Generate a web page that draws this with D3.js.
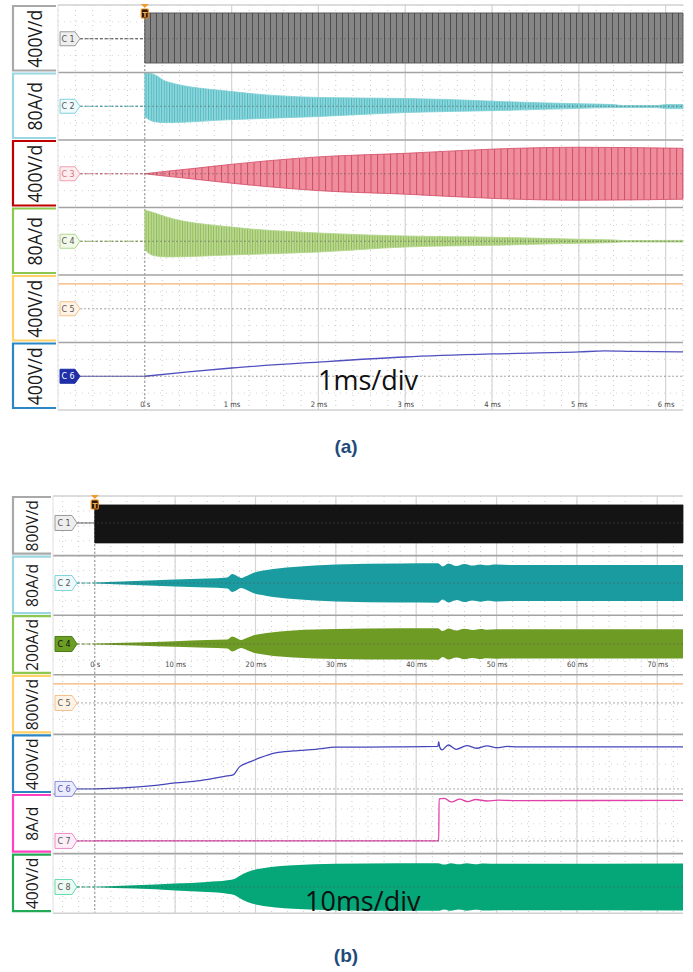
<!DOCTYPE html>
<html>
<head>
<meta charset="utf-8">
<script src="https://cdn.jsdelivr.net/npm/d3@7"></script>
<style>
body { margin: 0; background: #fff; }
svg { display: block; }
</style>
</head>
<body>
<svg id="chart" width="693" height="972"></svg>
<script>
// ---------- panel (a), 1 ms/div ----------
var aTickValues = [0, 1, 2, 3, 4, 5, 6];
var aTickLabels = ["0 s", "1 ms", "2 ms", "3 ms", "4 ms", "5 ms", "6 ms"];
var aScales = ["400V/d", "80A/d", "400V/d", "80A/d", "400V/d", "400V/d"];
var aTags = ["C 1", "C 2", "C 3", "C 4", "C 5", "C 6"];
var aGround = [0, 0, 0, 0, 0, 0];   // divisions from strip centre

// envelopes / traces, time in ms, level in divisions above ground
var aC1_t = [0, 6.2];
var aC1_hi = [1.53, 1.53];
var aC1_lo = [-1.44, -1.44];

var aC2_t = [0, 0.1, 0.25, 1, 2, 3, 3.5, 4.1, 4.9, 5.4, 5.5, 5.9, 6.0, 6.2];
var aC2_hi = [2.0, 1.9, 1.46, 0.87, 0.52, 0.46, 0.40, 0.28, 0.16, 0.10, 0.04, 0.04, 0.10, 0.10];
var aC2_lo = [-0.62, -0.9, -0.97, -0.79, -0.61, -0.37, -0.31, -0.25, -0.14, -0.08, -0.08, -0.08, -0.14, -0.14];

var aC3_t = [0, 0.2, 0.5, 1, 2, 3, 4.1, 5, 6.2];
var aC3_amp = [0, 0.12, 0.28, 0.56, 1.0, 1.21, 1.48, 1.57, 1.51];

var aC4_t = [0, 0.1, 0.25, 1, 2, 3, 4, 5, 5.4, 5.5, 6.2];
var aC4_hi = [1.85, 1.7, 1.44, 0.84, 0.49, 0.31, 0.24, 0.12, 0.08, 0.04, 0.05];
var aC4_lo = [-0.52, -0.85, -0.93, -0.81, -0.64, -0.34, -0.24, -0.12, -0.08, -0.04, -0.05];

var aC5_t = [-1.0, 6.2];
var aC5_v = [1.47, 1.47];

var aC6_t = [0, 0.5, 1, 2, 3, 4, 5, 5.3, 5.6, 6.2];
var aC6_v = [0, 0.26, 0.49, 0.84, 1.14, 1.32, 1.44, 1.50, 1.47, 1.44];

// ---------- panel (b), 10 ms/div ----------
var bTickValues = [0, 10, 20, 30, 40, 50, 60, 70];
var bTickLabels = ["0 s", "10 ms", "20 ms", "30 ms", "40 ms", "50 ms", "60 ms", "70 ms"];
var bScales = ["800V/d", "80A/d", "200A/d", "800V/d", "400V/d", "8A/d", "400V/d"];
var bTags = ["C 1", "C 2", "C 4", "C 5", "C 6", "C 7", "C 8"];
var bGround = [0.19, 0.16, 0.07, 0.11, -1.66, -1.15, -0.24];

var bC1_t = [0, 73.2];
var bC1_hi = [1.21, 1.21];
var bC1_lo = [-1.34, -1.34];

var bC2_t = [0, 5, 10, 14, 16.5, 17.1, 17.6, 18.2, 18.9, 19.7, 21.4, 24.7, 30, 38, 42.7, 43.3, 44, 45, 46, 47, 48, 48.8, 50, 52, 73.2];
var bC2_amp = [0.03, 0.13, 0.23, 0.30, 0.37, 0.60, 0.50, 0.34, 0.47, 0.67, 0.87, 1.07, 1.24, 1.31, 1.32, 1.11, 1.31, 1.14, 1.28, 1.17, 1.25, 1.19, 1.24, 1.21, 1.21];

var bC4_t = [0, 5, 10, 14, 16.5, 17.1, 17.6, 18.2, 18.9, 19.7, 21.4, 24.7, 30, 38, 42.7, 43.3, 44, 45, 46, 47, 48, 48.8, 50, 52, 73.2];
var bC4_amp = [0.03, 0.10, 0.19, 0.26, 0.30, 0.50, 0.40, 0.27, 0.40, 0.57, 0.74, 0.91, 1.01, 1.05, 1.06, 0.87, 1.04, 0.91, 1.02, 0.94, 1.01, 0.96, 0.99, 0.98, 0.98];

var bC5_t = [-5.2, 73.2];
var bC5_v = [1.28, 1.28];

var bC6_t = [0, 3.5, 6.9, 10, 13.1, 16.5, 17.2, 18, 19.3, 20.5, 22.5, 24.7, 27.5, 30, 37, 42.7, 42.8, 42.9, 43.2, 44, 45, 46.3, 47.5, 48.8, 50.1, 51.3, 52.5, 73.2];
var bC6_v = [0, 0.07, 0.2, 0.40, 0.56, 0.87, 0.94, 1.48, 1.81, 2.08, 2.42, 2.55, 2.66, 2.80, 2.82, 2.85, 3.17, 2.85, 2.62, 2.95, 2.66, 2.91, 2.73, 2.89, 2.77, 2.85, 2.82, 2.82];

var bC7_t = [0, 42.8, 42.85, 43.5, 44.4, 45.4, 46.4, 47.4, 48.8, 50.2, 52, 73.2];
var bC7_v = [0, 0, 2.82, 2.85, 2.62, 2.80, 2.64, 2.78, 2.68, 2.74, 2.71, 2.72];

var bC8_t = [0, 5, 10, 14, 16.5, 17.5, 18, 19, 20.5, 22.5, 24.7, 30, 38, 42.7, 43.5, 44.3, 45.3, 46.3, 47.3, 48.5, 50, 73.2];
var bC8_amp = [0.02, 0.11, 0.23, 0.34, 0.45, 0.57, 0.74, 1.01, 1.23, 1.38, 1.46, 1.56, 1.60, 1.60, 1.51, 1.60, 1.52, 1.59, 1.53, 1.58, 1.56, 1.58];

function neg(a) { return a.map(function(v) { return -v; }); }

var svg = d3.select("#chart");
var defs = svg.append("defs");

// vertical switching stripes used by the 1 ms/div traces
function stripes(id, bg, fg, w, lw) {
    var p = defs.append("pattern").attr("id", id)
        .attr("patternUnits", "userSpaceOnUse")
        .attr("width", w).attr("height", 10);
    p.append("rect").attr("width", w).attr("height", 10).attr("fill", bg);
    p.append("rect").attr("width", lw).attr("height", 10).attr("fill", fg);
}
stripes("pA1", "#868686", "#4e4e4e", 6, 1);
stripes("pA2", "#8ed6db", "#4fb9c2", 2.6, 0.9);
stripes("pA3", "#ef8d9c", "#d44e69", 6.5, 1);
stripes("pA4", "#bad993", "#8fb955", 2.6, 0.9);

var aStyle = [
    {box: "#a9a9a9", tagFill: "#eeeeee", tagStroke: "#9a9a9a", tagText: "#555", pre: "#555", preDash: "3,2", fill: "url(#pA1)", edge: "#4a4a4a"},
    {box: "#9bd6e3", tagFill: "#eefafb", tagStroke: "#7fd3dc", tagText: "#555", pre: "#3fb1bb", preDash: "3,2", fill: "url(#pA2)", edge: "#7ccfd5"},
    {box: "#c00000", tagFill: "#fdecef", tagStroke: "#f0a0ae", tagText: "#c77", pre: "#e06880", preDash: "3,2", fill: "url(#pA3)", edge: "#d24c67"},
    {box: "#8cc850", tagFill: "#f2f9e8", tagStroke: "#b0d890", tagText: "#555", pre: "#86b24a", preDash: "3,2", fill: "url(#pA4)", edge: "#b0d488"},
    {box: "#ffd166", tagFill: "#fff3e6", tagStroke: "#f5c08a", tagText: "#555", pre: null, line: "#f5b070"},
    {box: "#2b86c6", tagFill: "#1f2fa8", tagStroke: "#1f2fa8", tagText: "#fff", pre: "#5a5ab0", preDash: null, line: "#5050c0"}
];

var bStyle = [
    {box: "#a9a9a9", tagFill: "#eeeeee", tagStroke: "#9a9a9a", tagText: "#555", pre: "#777", preDash: null, fill: "#141414", edge: "#141414"},
    {box: "#9bd6e3", tagFill: "#eefafb", tagStroke: "#7fd3dc", tagText: "#555", pre: "#1a9ba0", preDash: "3,2", fill: "#1a9ba0", edge: "none"},
    {box: "#8cc850", tagFill: "#6b9e22", tagStroke: "#4f7a14", tagText: "#111", pre: "#6b9b22", preDash: "3,2", fill: "#6d9b23", edge: "none"},
    {box: "#ffd166", tagFill: "#fff3e6", tagStroke: "#f5c08a", tagText: "#555", pre: null, line: "#f5b070"},
    {box: "#2b86c6", tagFill: "#ececff", tagStroke: "#8c8cd8", tagText: "#5555b0", pre: "#4a4ac0", preDash: null, line: "#4646bb"},
    {box: "#ff40c0", tagFill: "#fdeef7", tagStroke: "#ec8cc8", tagText: "#555", pre: "#e040a8", preDash: null, line: "#e040a8"},
    {box: "#22aa55", tagFill: "#ecfbf4", tagStroke: "#6ad8b0", tagText: "#555", pre: "#07a677", preDash: "3,2", fill: "#05a677", edge: "none"}
];

function drawPanel(P) {
    var n = P.scales.length;
    var bottom = P.top + n * P.stripH;
    var x = d3.scaleLinear().domain(P.domain).range([P.left, P.right]);
    var ys = d3.range(n).map(function(i) {
        return d3.scaleLinear().domain([-2, 2])
            .range([P.top + (i + 1) * P.stripH, P.top + i * P.stripH]);
    });
    var g = svg.append("g");

    // grid
    var k0 = Math.ceil(P.domain[0] / P.minor - 1e-6), k1 = Math.floor(P.domain[1] / P.minor + 1e-6);
    var minors = d3.range(k0, k1 + 1).map(function(k) { return k * P.minor; });
    g.selectAll(".minor").data(minors).join("line")
        .attr("x1", function(d) { return x(d); }).attr("x2", function(d) { return x(d); })
        .attr("y1", P.top).attr("y2", bottom)
        .attr("stroke", "#bdbdbd").attr("stroke-width", 0.8).attr("stroke-dasharray", "1,4");
    g.selectAll(".major").data(P.ticks.filter(function(d) { return d !== 0; })).join("line")
        .attr("x1", function(d) { return x(d); }).attr("x2", function(d) { return x(d); })
        .attr("y1", P.top).attr("y2", bottom)
        .attr("stroke", "#d6d6d6").attr("stroke-width", 1.2);
    d3.range(n).forEach(function(i) {
        [0.25, 0.5, 0.75].forEach(function(q) {
            var yy = P.top + i * P.stripH + q * P.stripH;
            g.append("line").attr("x1", P.left).attr("x2", P.right).attr("y1", yy).attr("y2", yy)
                .attr("stroke", "#c8c8c8").attr("stroke-width", 0.8).attr("stroke-dasharray", "1,5");
        });
    });
    // trigger time line
    g.append("line").attr("x1", x(0)).attr("x2", x(0)).attr("y1", P.top).attr("y2", bottom)
        .attr("stroke", "#8a8a8a").attr("stroke-width", 1).attr("stroke-dasharray", "2,2");

    // pre-trigger ground segments
    P.style.forEach(function(st, i) {
        if (!st.pre) return;
        var yy = ys[i](P.ground[i]);
        g.append("line").attr("x1", P.tagX + P.tagW).attr("x2", x(0)).attr("y1", yy).attr("y2", yy)
            .attr("stroke", st.pre).attr("stroke-width", 1.1)
            .attr("stroke-dasharray", st.preDash);
    });

    // traces
    P.traces.forEach(function(tr) {
        var y = ys[tr.ch], gnd = P.ground[tr.ch], st = P.style[tr.ch];
        if (tr.hi) {
            var pts = tr.t.map(function(t, j) { return {t: t, hi: tr.hi[j], lo: tr.lo[j]}; });
            var area = d3.area()
                .curve(d3.curveMonotoneX)
                .x(function(d) { return x(d.t); })
                .y0(function(d) { return y(gnd + d.lo); })
                .y1(function(d) { return y(gnd + d.hi); });
            g.append("path").datum(pts).attr("d", area)
                .attr("fill", st.fill).attr("stroke", st.edge).attr("stroke-width", 0.8);
        } else {
            var pts2 = tr.t.map(function(t, j) { return {t: t, v: tr.v[j]}; });
            var line = d3.line()
                .curve(d3.curveMonotoneX)
                .x(function(d) { return x(d.t); })
                .y(function(d) { return y(gnd + d.v); });
            g.append("path").datum(pts2).attr("d", line)
                .attr("fill", "none").attr("stroke", st.line).attr("stroke-width", 1.3);
        }
    });

    // ground reference lines
    d3.range(n).forEach(function(i) {
        var yy = ys[i](P.ground[i]);
        g.append("line").attr("x1", P.tagX + P.tagW).attr("x2", P.right).attr("y1", yy).attr("y2", yy)
            .attr("stroke", "#555").attr("stroke-opacity", 0.55).attr("stroke-width", 0.9)
            .attr("stroke-dasharray", "2,2");
    });

    // strip separators and frame
    d3.range(n + 1).forEach(function(i) {
        var yy = P.top + i * P.stripH;
        g.append("line").attr("x1", P.left).attr("x2", P.right).attr("y1", yy).attr("y2", yy)
            .attr("stroke", (i === 0 || i === n) ? "#d0d0d0" : "#a3a3a3").attr("stroke-width", 1.6);
    });
    g.append("line").attr("x1", P.left).attr("x2", P.left).attr("y1", P.top).attr("y2", bottom)
        .attr("stroke", "#e0e0e0").attr("stroke-width", 1);

    // scale boxes with rotated volts/amps per division
    P.style.forEach(function(st, i) {
        var t0 = P.top + i * P.stripH + 1, t1 = P.top + (i + 1) * P.stripH - 2;
        g.append("path")
            .attr("d", "M" + (P.left - 2) + "," + t0 + "H" + P.boxX + "V" + t1 + "H" + (P.left - 2))
            .attr("fill", "none").attr("stroke", st.box).attr("stroke-width", 2.2);
        var cy = P.top + (i + 0.5) * P.stripH;
        g.append("text")
            .attr("transform", "translate(" + P.labelX + "," + cy + ") rotate(-90) scale(" + P.labelSqueeze + ",1)")
            .attr("text-anchor", "middle")
            .attr("font-family", "Open Sans, sans-serif")
            .attr("font-size", P.labelSize)
            .attr("fill", "#1a1a1a")
            .text(P.scales[i]);
    });

    // channel tags
    P.style.forEach(function(st, i) {
        var yy = ys[i](P.ground[i]), x0 = P.tagX, w = P.tagW, hh = P.tagH / 2;
        g.append("path")
            .attr("d", "M" + x0 + "," + (yy - hh) + "H" + (x0 + w - 5) + "L" + (x0 + w) + "," + yy +
                "L" + (x0 + w - 5) + "," + (yy + hh) + "H" + x0 + "Z")
            .attr("fill", st.tagFill).attr("stroke", st.tagStroke).attr("stroke-width", 1)
            .attr("stroke-linejoin", "round");
        g.append("text").attr("x", x0 + (w - 5) / 2 + 0.5).attr("y", yy + 3)
            .attr("text-anchor", "middle")
            .attr("font-family", "DejaVu Sans, sans-serif").attr("font-size", 8)
            .attr("fill", st.tagText).text(P.tags[i]);
    });

    // trigger marker
    var tx = x(0);
    g.append("path")
        .attr("d", "M" + (tx - 4) + "," + (P.top - 1) + "H" + (tx + 4) + "L" + tx + "," + (P.top + 3) + "Z")
        .attr("fill", "#f39a2c");
    g.append("rect").attr("x", tx - 3.5).attr("y", P.top + 4).attr("width", 7).attr("height", 9)
        .attr("fill", "#2a1a06").attr("stroke", "#f08a1a").attr("stroke-width", 1.2).attr("rx", 1);
    g.append("text").attr("x", tx).attr("y", P.top + 11.5).attr("text-anchor", "middle")
        .attr("font-family", "DejaVu Sans, sans-serif").attr("font-size", 7).attr("font-weight", "bold")
        .attr("fill", "#f5b060").text("T");

    // time axis labels
    var axis = d3.axisBottom(x).tickValues(P.ticks)
        .tickFormat(function(d, i) { return P.tickLabels[i]; })
        .tickSize(0).tickPadding(0);
    var ax = g.append("g").attr("transform", "translate(0," + P.axisY + ")").call(axis);
    ax.select(".domain").remove();
    ax.selectAll("text").attr("font-family", "DejaVu Sans Condensed, DejaVu Sans, sans-serif")
        .attr("font-size", 7.5).attr("fill", "#444");

    // time-base note
    g.append("text").attr("x", P.noteX).attr("y", P.noteY)
        .attr("font-family", "Open Sans, sans-serif").attr("font-size", 27)
        .attr("fill", "#111").text(P.note);

    // caption
    g.append("text").attr("x", 346).attr("y", P.captionY).attr("text-anchor", "middle")
        .attr("font-family", "Liberation Sans, Arial, sans-serif").attr("font-weight", "bold")
        .attr("font-size", 19).attr("fill", "#1e4b7a").text(P.caption);
}

drawPanel({
    top: 5, stripH: 67.5, left: 58, right: 683, domain: [-1.0, 6.2], minor: 0.2,
    ticks: aTickValues, tickLabels: aTickLabels, scales: aScales, tags: aTags, ground: aGround,
    style: aStyle, boxX: 13, labelX: 42, labelSize: 20.5, labelSqueeze: 0.86,
    tagX: 60, tagW: 20, tagH: 14, axisY: 402,
    note: "1ms/div", noteX: 318, noteY: 390, caption: "(a)", captionY: 453,
    traces: [
        {ch: 0, t: aC1_t, hi: aC1_hi, lo: aC1_lo},
        {ch: 1, t: aC2_t, hi: aC2_hi, lo: aC2_lo},
        {ch: 2, t: aC3_t, hi: aC3_amp, lo: neg(aC3_amp)},
        {ch: 3, t: aC4_t, hi: aC4_hi, lo: aC4_lo},
        {ch: 4, t: aC5_t, v: aC5_v},
        {ch: 5, t: aC6_t, v: aC6_v}
    ]
});

drawPanel({
    top: 496, stripH: 59.6, left: 53, right: 683, domain: [-5.2, 73.2], minor: 2,
    ticks: bTickValues, tickLabels: bTickLabels, scales: bScales, tags: bTags, ground: bGround,
    style: bStyle, boxX: 13, labelX: 37.5, labelSize: 17, labelSqueeze: 0.92,
    tagX: 55, tagW: 22, tagH: 15, axisY: 662,
    note: "10ms/div", noteX: 305, noteY: 911, caption: "(b)", captionY: 962,
    traces: [
        {ch: 0, t: bC1_t, hi: bC1_hi, lo: bC1_lo},
        {ch: 1, t: bC2_t, hi: bC2_amp, lo: neg(bC2_amp)},
        {ch: 2, t: bC4_t, hi: bC4_amp, lo: neg(bC4_amp)},
        {ch: 3, t: bC5_t, v: bC5_v},
        {ch: 4, t: bC6_t, v: bC6_v},
        {ch: 5, t: bC7_t, v: bC7_v},
        {ch: 6, t: bC8_t, hi: bC8_amp, lo: neg(bC8_amp)}
    ]
});
</script>
</body>
</html>
